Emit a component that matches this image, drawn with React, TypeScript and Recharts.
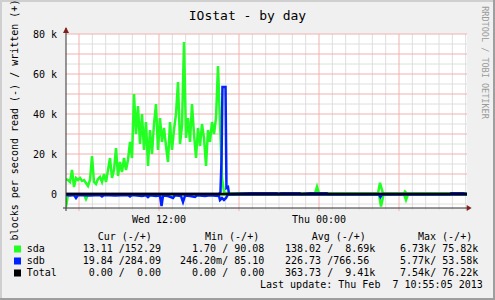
import React from "react";
import {ComposedChart, Line, ReferenceArea, ReferenceDot, ReferenceLine, XAxis, YAxis} from "recharts";

const MONO = '"DejaVu Sans Mono", monospace';

// time in hours since Wed 00:00 (Thu 00:00 = 24), values in thousand blocks/s
const busyStart = 5.025;
const busyStep = 0.15;
const sdaWriteBusy = [
	7.5, 7, 6, 12, 3.5, 8, 7, 8, 6.5, 7,
	5.5, 4, 7, 19, 6, 5, 7.5, 8.5, 6, 10,
	6, 12, 18, 8, 12, 23, 9, 16, 11, 18,
	12, 17, 26, 18, 50, 30, 44, 25, 40, 22,
	36, 14, 32, 20, 35, 45, 22, 38, 26, 33,
	24, 16, 36, 22, 32, 40, 56, 25, 34, 76,
	28, 38, 26, 45, 30, 18, 33, 24, 35, 28,
	14, 32, 26, 36, 30, 38, 64, 36, 8, 1,
	0.5, 0.3,
];
const sdaWriteQuietTimes = [18.075, 23.7, 23.85, 24.0, 28.425, 28.575, 28.8, 30.375, 30.45, 30.6, 35.1];
const sdaWriteQuietValues = [0.2, 0.2, 3.6, 0.2, 0.2, 5.6, 0.2, 0.2, 1.2, 0.2, 0.2];

const sdaReadTimes = [5.025, 5.175, 6.375, 6.525, 6.675, 28.5, 28.65, 28.84, 30.375, 30.525, 30.675, 35.1];
const sdaReadValues = [-6.5, -0.2, -0.2, -2.5, -0.2, -0.2, -6.3, -0.2, -0.2, -3, -0.2, -0.2];

const sdbWriteTimes = [
	5.025, 16.5, 16.61, 16.69, 16.76, 16.99, 17.06, 17.175, 17.25, 18.825, 20.85, 20.925,
	21.15, 22.575, 22.65, 23.325, 24.6, 24.675, 33.825, 33.9, 34.8, 35.1,
];
const sdbWriteValues = [
	0, 0, 1, 17, 53.5, 53.5, 3, 3.5, 0, 0.35, 0.35, 0,
	0.35, 0.35, 0, 0.35, 0.35, 0, 0, 0.35, 0.35, 0,
];

const sdbReadTimes = [
	5.025, 5.325, 5.625, 5.775, 5.925, 6.825, 7.575, 7.725, 7.875, 8.7, 9.675, 9.825,
	9.975, 10.725, 11.025, 11.175, 11.325, 11.775, 12.075, 12.19, 12.3, 12.675, 13.05, 13.2,
	13.65, 13.8, 13.95, 14.325, 14.7, 14.85, 15.45, 15.825, 16.5, 16.575, 16.725, 16.875,
	17.025, 17.175, 28.5, 28.61, 28.725, 35.1,
];
const sdbReadValues = [
	-0.5, -0.8, -0.5, -2, -0.5, -0.8, -0.5, -1.2, -0.5, -0.8, -0.5, -1.2,
	-0.5, -1, -0.6, -1.5, -0.6, -1, -0.8, -6, -0.8, -1, -2, -0.6,
	-1, -4, -0.8, -1, -1.5, -0.6, -1, -0.6, -1, -3, -2, -3,
	-2, -0.2, -0.2, -1.5, -0.2, -0.2,
];

const totalTimes = [5.025, 35.1];
const totalValues = [0, 0];

const yTicks = [0, 10, 20, 30, 40, 50, 60, 70, 80];
const yMinorGrid = [-5, 5, 15, 25, 35, 45, 55, 65, 75];
const xMajorGrid = [6, 12, 18, 24, 30];
const xMinorGrid = [7, 8, 9, 10, 11, 13, 14, 15, 16, 17, 19, 20, 21, 22, 23, 25, 26, 27, 28, 29, 31, 32, 33, 34, 35];
const xLabelTicks = [12, 24];
const xLabels = ["Wed 12:00", "Thu 00:00"];

const legendNames = ["sda", "sdb", "Total"];
const legendColors = ["#22ff22", "#0022ff", "#000000"];
const legendHeaders = ["Cur (-/+)", "Min (-/+)", "Avg (-/+)", "Max (-/+)"];
const curValues = [" 13.11 /152.29 ", " 19.84 /284.09 ", "  0.00 /  0.00 "];
const minValues = ["  1.70 / 90.08 ", "246.20m/ 85.10 ", "  0.00 /  0.00 "];
const avgValues = ["138.02 /  8.69k", "226.73 /766.56 ", "363.73 /  9.41k"];
const maxValues = ["  6.73k/ 75.82k", "  5.77k/ 53.58k", "  7.54k/ 76.22k"];
const lastUpdate = "Last update: Thu Feb  7 10:55:05 2013";

const X_MIN = 5.025;
const X_MAX = 35.1;
const Y_MIN = -7;
const Y_MAX = 80;

const points = (times: number[], values: number[]) => times.map((t, i) => ({t, v: values[i]}));

const sdaWrite = [
	...sdaWriteBusy.map((v, i) => ({t: busyStart + i * busyStep, v})),
	...points(sdaWriteQuietTimes, sdaWriteQuietValues),
];
const sdaRead = points(sdaReadTimes, sdaReadValues);
const sdbWrite = points(sdbWriteTimes, sdbWriteValues);
const sdbRead = points(sdbReadTimes, sdbReadValues);
const total = points(totalTimes, totalValues);

function YTick({x, y, payload}: any) {
	const v = payload.value;
	return (
		<text x={x} y={y} dy={3.5} textAnchor="end" fontFamily={MONO} fontSize={10} fill="#000">
			{v === 0 ? "0" : `${v} k`}
		</text>
	);
}

function XTick({x, y, payload}: any) {
	const i = xLabelTicks.indexOf(payload.value);
	return (
		<text x={x} y={y + 15} textAnchor="middle" fontFamily={MONO} fontSize={10} fill="#000">
			{xLabels[i]}
		</text>
	);
}

const upArrow = (p: any) => (
	<path d={`M${p.cx - 3},${p.cy + 5} L${p.cx + 3},${p.cy + 5} L${p.cx},${p.cy - 1} Z`} fill="#801f1f"/>
);
const rightArrow = (p: any) => (
	<path d={`M${p.cx - 3},${p.cy - 3} L${p.cx - 3},${p.cy + 3} L${p.cx + 2},${p.cy} Z`} fill="#801f1f"/>
);

const colX = [76.7, 180, 285, 388];
const headerX = [97.7, 205, 311.7, 418];
const rowY = [252, 264, 276];

export default function App() {
	const cols = [curValues, minValues, avgValues, maxValues];
	return (
		<div style={{position: "fixed", left: 0, top: 0, width: 495, height: 300, background: "#f0f0f0", overflow: "hidden"}}>
			<ComposedChart width={495} height={300} margin={{top: 34, right: 28, bottom: 72, left: 0}}>
				<XAxis dataKey="t" type="number" domain={[X_MIN, X_MAX]} allowDataOverflow ticks={xLabelTicks}
				       axisLine={false} tickLine={false} tickSize={0} tickMargin={0} height={20} tick={<XTick/>}/>
				<YAxis type="number" domain={[Y_MIN, Y_MAX]} allowDataOverflow ticks={yTicks} width={66}
				       axisLine={false} tickLine={false} tickSize={0} tickMargin={9} tick={<YTick/>}/>
				<ReferenceArea x1={X_MIN} x2={X_MAX} y1={Y_MIN} y2={Y_MAX} fill="#ffffff" fillOpacity={1} stroke="none"/>
				{yMinorGrid.map((v) => (
					<ReferenceLine key={`my${v}`} y={v} stroke="#dedede"/>
				))}
				{xMinorGrid.map((h) => (
					<ReferenceLine key={`mx${h}`} segment={[{x: h, y: -8}, {x: h, y: Y_MAX}]} stroke="#dedede" ifOverflow="visible"/>
				))}
				{yTicks.map((v) => (
					<ReferenceLine key={`My${v}`} y={v} stroke="#f2b0b0"/>
				))}
				{xMajorGrid.map((h) => (
					<ReferenceLine key={`Mx${h}`} segment={[{x: h, y: -8.5}, {x: h, y: Y_MAX}]} stroke="#f2b0b0" ifOverflow="visible"/>
				))}
				<Line data={sdaWrite} dataKey="v" type="linear" stroke="#22ff22" strokeWidth={2.5} dot={false} activeDot={false} isAnimationActive={false}/>
				<Line data={sdaRead} dataKey="v" type="linear" stroke="#22ff22" strokeWidth={2.5} dot={false} activeDot={false} isAnimationActive={false}/>
				<Line data={sdbWrite} dataKey="v" type="linear" stroke="#0022ff" strokeWidth={2.5} dot={false} activeDot={false} isAnimationActive={false}/>
				<Line data={sdbRead} dataKey="v" type="linear" stroke="#0022ff" strokeWidth={2.5} dot={false} activeDot={false} isAnimationActive={false}/>
				<Line data={total} dataKey="v" type="linear" stroke="#000000" strokeWidth={2.5} dot={false} activeDot={false} isAnimationActive={false}/>
				<ReferenceLine segment={[{x: 4.8, y: Y_MIN}, {x: 35.3, y: Y_MIN}]} stroke="#333333" ifOverflow="visible"/>
				<ReferenceLine segment={[{x: X_MIN, y: -8.5}, {x: X_MIN, y: 83}]} stroke="#333333" ifOverflow="visible"/>
				<ReferenceDot x={X_MIN} y={83} r={3} shape={upArrow} ifOverflow="visible"/>
				<ReferenceDot x={35.3} y={Y_MIN} r={3} shape={rightArrow} ifOverflow="visible"/>
			</ComposedChart>
			<svg width={495} height={300} style={{position: "absolute", left: 0, top: 0, pointerEvents: "none"}}>
				<rect x={0} y={0} width={495} height={2} fill="#cfcfcf"/>
				<rect x={0} y={0} width={2} height={300} fill="#cfcfcf"/>
				<rect x={0} y={298} width={495} height={2} fill="#9e9e9e"/>
				<rect x={493} y={0} width={2} height={300} fill="#9e9e9e"/>
				<text x={247.5} y={20} textAnchor="middle" fontFamily={MONO} fontSize={13} fill="#000">IOstat - by day</text>
				<text transform="translate(18.3,120) rotate(-90)" textAnchor="middle" fontFamily={MONO} fontSize={10} fill="#000">
					blocks per second read (-) / written (+)
				</text>
				<text transform="translate(482,62.5) rotate(90)" textAnchor="middle" fontFamily={MONO} fontSize={8.5} fill="#9a9a9a">
					RRDTOOL / TOBI OETIKER
				</text>
				{legendHeaders.map((h, i) => (
					<text key={h} x={headerX[i]} y={240} fontFamily={MONO} fontSize={10} fill="#000">{h}</text>
				))}
				{legendNames.map((name, r) => (
					<g key={name}>
						<rect x={14} y={rowY[r] - 6.5} width={7} height={7} fill={legendColors[r]}/>
						<text x={26.7} y={rowY[r]} fontFamily={MONO} fontSize={10} fill="#000">{name}</text>
						{cols.map((col, c) => (
							<text key={c} x={colX[c]} y={rowY[r]} fontFamily={MONO} fontSize={10} fill="#000"
							      xmlSpace="preserve" style={{whiteSpace: "pre"}}>{col[r]}</text>
						))}
					</g>
				))}
				<text x={260} y={288} fontFamily={MONO} fontSize={10} fill="#000" xmlSpace="preserve" style={{whiteSpace: "pre"}}>
					{lastUpdate}
				</text>
			</svg>
		</div>
	);
}
